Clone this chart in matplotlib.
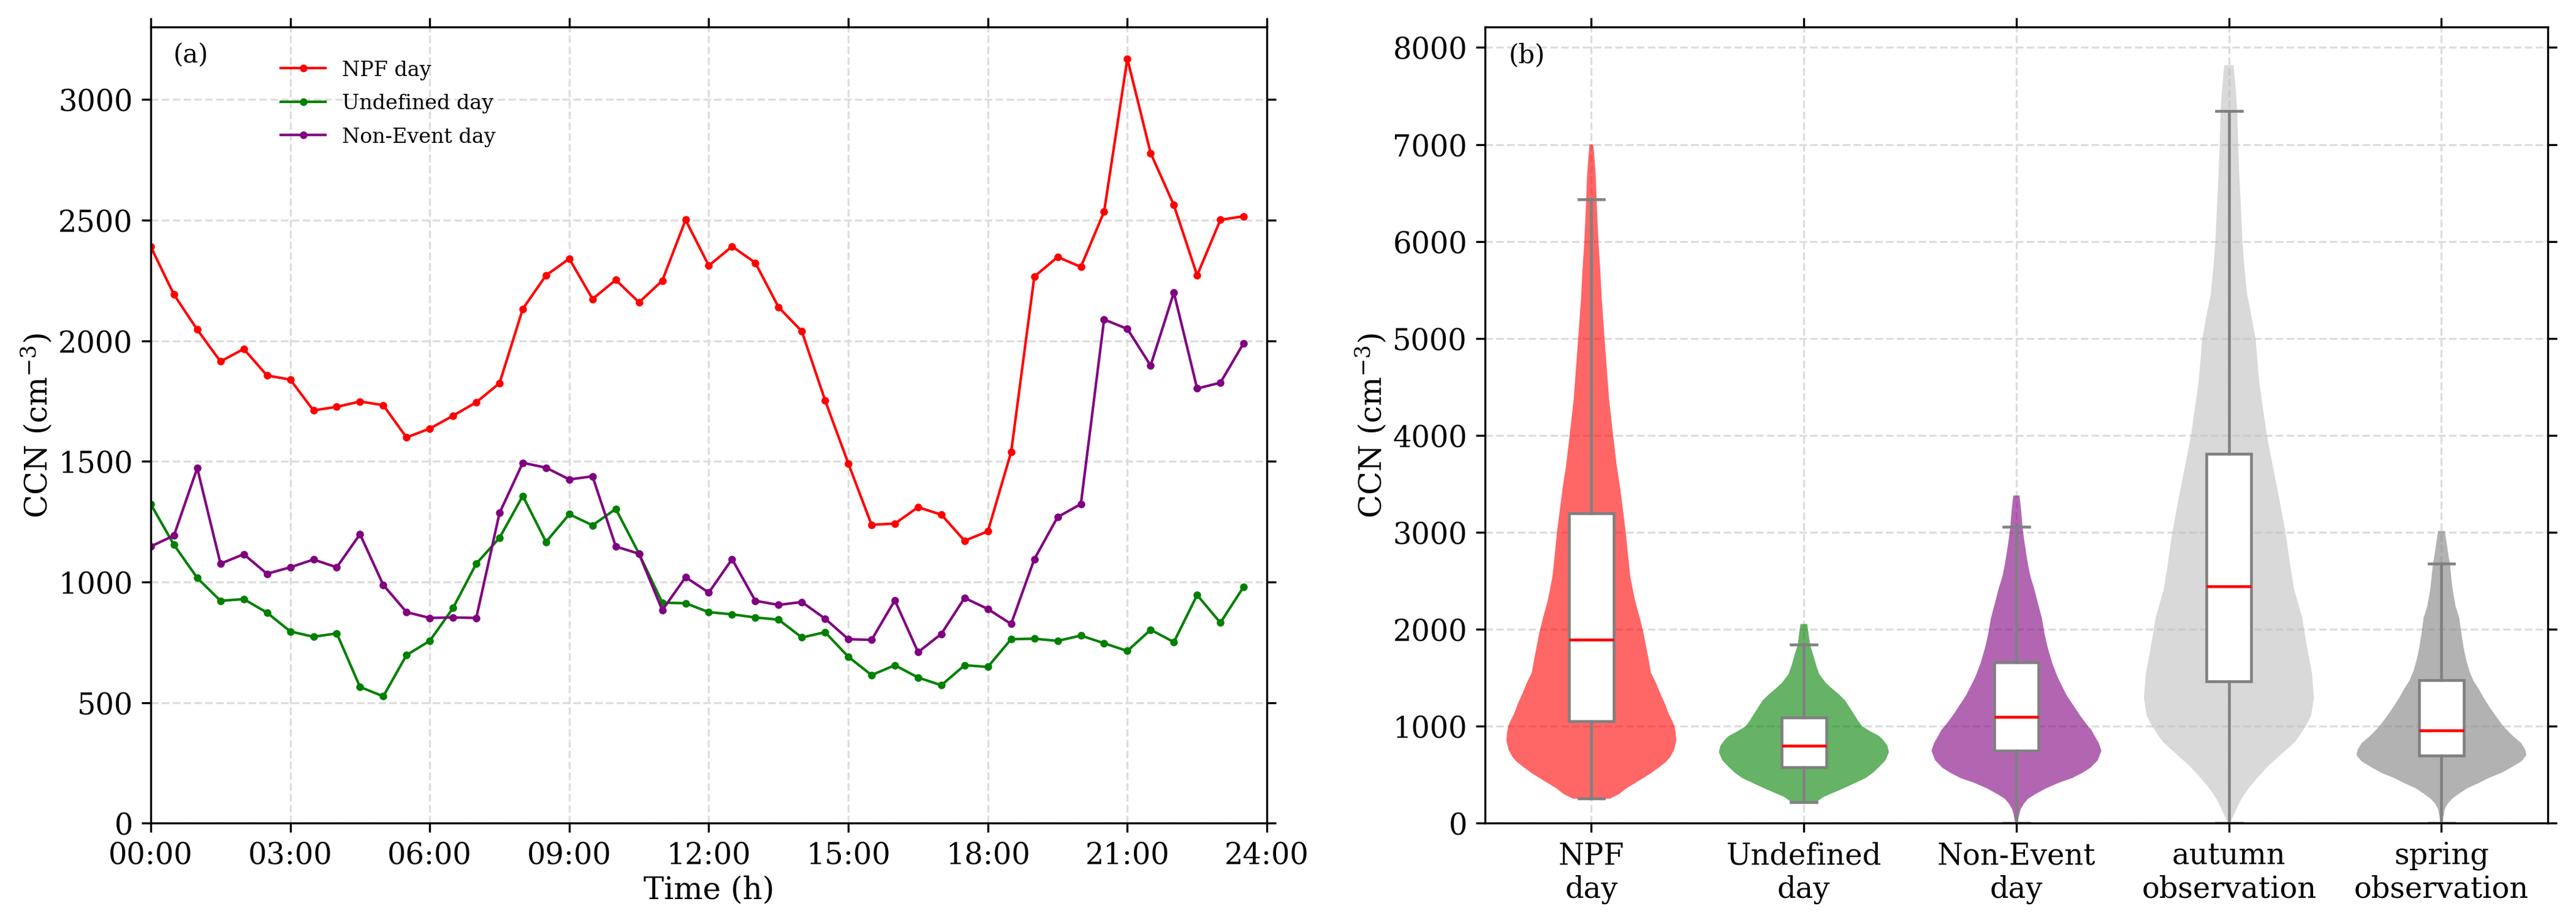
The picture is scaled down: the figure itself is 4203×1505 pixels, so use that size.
import matplotlib
matplotlib.use('Agg')
import matplotlib.pyplot as plt
import numpy as np

plt.rcParams['font.family'] = ['DejaVu Serif']
plt.rcParams['mathtext.fontset'] = 'dejavuserif'

# ---- datos panel (a): CCN medio cada 30 min ----
hours = np.arange(0, 24, 0.5)

npf_day = [2390, 2191, 2046, 1914, 1966, 1856, 1839, 1711, 1726, 1748, 1733, 1599,
           1636, 1689, 1745, 1824, 2132, 2271, 2340, 2173, 2252, 2159, 2249, 2501,
           2311, 2391, 2323, 2139, 2039, 1753, 1491, 1237, 1242, 1310, 1279, 1171,
           1210, 1538, 2266, 2347, 2306, 2535, 3169, 2778, 2562, 2271, 2501, 2516]

undefined_day = [1323, 1154, 1017, 922, 929, 873, 795, 773, 787, 565, 526, 697,
                 756, 892, 1076, 1183, 1357, 1166, 1281, 1235, 1303, 1117, 914, 912,
                 875, 866, 853, 844, 770, 792, 690, 614, 655, 604, 572, 655,
                 648, 763, 765, 756, 778, 746, 714, 802, 751, 946, 831, 980]

nonevent_day = [1147, 1193, 1472, 1076, 1115, 1034, 1061, 1093, 1061, 1198, 988, 875,
                851, 853, 851, 1286, 1494, 1474, 1425, 1438, 1147, 1117, 883, 1020,
                956, 1095, 922, 905, 917, 848, 763, 760, 924, 709, 785, 934,
                888, 826, 1095, 1269, 1323, 2088, 2049, 1897, 2200, 1802, 1826, 1990]

time_ticks = [0, 3, 6, 9, 12, 15, 18, 21, 24]
time_labels = ['00:00', '03:00', '06:00', '09:00', '12:00', '15:00', '18:00', '21:00', '24:00']

# ---- datos panel (b): perfiles de densidad ----
groups = ['NPF\nday', 'Undefined\nday', 'Non-Event\nday', 'autumn\nobservation', 'spring\nobservation']
violin_colors = ['red', 'green', 'purple', 'silver', 'gray']

npf_y = [253, 300, 360, 420, 468, 520, 576, 630, 683, 760, 854, 930, 1000, 1060, 1121,
         1230, 1336, 1450, 1555, 1700, 1810, 1960, 2115, 2300, 2540, 2750, 3000, 3200,
         3450, 3700, 4000, 4365, 4700, 5000, 5400, 5700, 6000, 6350, 6687, 6900, 7000]
npf_w = [60, 90, 114, 145, 170, 196, 220, 242, 257, 270, 277, 275, 271, 263, 253,
         240, 225, 210, 194, 186, 179, 170, 158, 142, 127, 120, 112, 104,
         94, 82, 71, 58, 50, 43, 34, 29, 23, 18, 14, 9, 6]

und_y = [220, 274, 320, 360, 420, 466, 520, 574, 650, 734, 800, 860, 900, 960, 1003,
         1060, 1121, 1190, 1264, 1324, 1400, 1447, 1538, 1629, 1740, 1842, 1964, 2055]
und_w = [41, 66, 100, 129, 170, 201, 225, 243, 266, 277, 272, 258, 245, 210, 189,
         176, 164, 150, 135, 116, 88, 72, 50, 40, 30, 20, 15, 11]

non_y = [0, 38, 90, 146, 200, 253, 300, 360, 420, 466, 520, 574, 650, 748, 830, 900,
         960, 1003, 1100, 1204, 1324, 1420, 1508, 1650, 1812, 1950, 2116, 2270, 2419,
         2540, 2663, 2780, 2906, 3050, 3210, 3300, 3380]
non_w = [3, 6, 9, 14, 24, 38, 62, 96, 140, 182, 215, 242, 265, 277, 268, 255,
         245, 233, 210, 188, 163, 148, 134, 117, 102, 92, 83, 70, 58,
         46, 38, 32, 26, 20, 16, 13, 10]

aut_y = [0, 82, 170, 253, 353, 466, 596, 681, 780, 839, 895, 1000, 1110, 1295, 1538,
         1690, 1900, 2116, 2419, 2700, 2991, 3331, 3650, 3994, 4300, 4547, 4800, 4997,
         5250, 5459, 5750, 6006, 6350, 6675, 7000, 7343, 7587, 7818]
aut_w = [2, 15, 28, 41, 62, 92, 130, 160, 195, 215, 228, 250, 268, 277, 271,
         262, 250, 239, 212, 198, 185, 165, 145, 124, 110, 99, 92, 87,
         72, 59, 50, 44, 39, 34, 30, 27, 22, 15]

spr_y = [0, 60, 146, 200, 253, 300, 360, 410, 466, 520, 574, 640, 703, 760, 827, 900,
         997, 1100, 1204, 1300, 1386, 1470, 1568, 1690, 1812, 1950, 2116, 2237, 2419,
         2540, 2663, 2780, 2845, 2930, 3015]
spr_w = [3, 6, 11, 20, 35, 55, 83, 118, 153, 195, 226, 260, 276, 272, 259, 232,
         202, 178, 155, 136, 121, 104, 91, 80, 72, 65, 58, 46, 36,
         32, 28, 22, 19, 15, 11]

# estadisticas de las cajas: bigote inf, q1, mediana, q3, bigote sup
whis_lo = [253, 216, 0, 0, 0]
q1 = [1052, 580, 748, 1465, 699]
med = [1891, 799, 1094, 2444, 960]
q3 = [3198, 1089, 1660, 3812, 1477]
whis_hi = [6432, 1842, 3058, 7343, 2675]

fig = plt.figure(figsize=(14.013, 5.02), dpi=300)

# ---------------- panel (a) ----------------
ax1 = fig.add_axes([0.0585, 0.108, 0.4332, 0.862])
ax1.plot(hours, npf_day, color='red', lw=1, marker='o', ms=2, label='NPF day')
ax1.plot(hours, undefined_day, color='green', lw=1, marker='o', ms=2, label='Undefined day')
ax1.plot(hours, nonevent_day, color='purple', lw=1, marker='o', ms=2, label='Non-Event day')

ax1.set_xlim(0, 24)
ax1.set_ylim(0, 3300)
ax1.set_xticks(time_ticks)
ax1.set_xticklabels(time_labels)
ax1.set_yticks([0, 500, 1000, 1500, 2000, 2500, 3000])
ax1.tick_params(labelsize=11.5, top=True, right=True)
ax1.grid(color='#dddddd', linestyle='--', linewidth=0.8)
ax1.set_axisbelow(True)
ax1.set_xlabel('Time (h)', fontsize=12, labelpad=2)
ax1.set_ylabel('CCN (cm$^{-3}$)', fontsize=12, labelpad=1.5)
ax1.text(0.02, 0.965, '(a)', transform=ax1.transAxes, fontsize=10, va='center')
ax1.legend(loc='upper left', bbox_to_anchor=(0.1, 0.982), frameon=False,
           fontsize=8, labelspacing=0.68, handlelength=2.2)

# ---------------- panel (b) ----------------
ax2 = fig.add_axes([0.5764, 0.108, 0.4124, 0.862])
positions = [1, 2, 3, 4, 5]
profiles = [(npf_y, npf_w), (und_y, und_w), (non_y, non_w), (aut_y, aut_w), (spr_y, spr_w)]

vpstats = []
for i, (ys, ws) in enumerate(profiles):
    vpstats.append({'coords': np.array(ys, dtype=float), 'vals': np.array(ws, dtype=float),
                    'mean': med[i], 'median': med[i], 'min': ys[0], 'max': ys[-1]})

parts = ax2.violin(vpstats, positions=positions, widths=0.8,
                   showmeans=False, showextrema=False, showmedians=False)
for body, c in zip(parts['bodies'], violin_colors):
    body.set_facecolor(c)
    body.set_edgecolor('none')
    body.set_alpha(0.6)

box_stats = []
for i in range(5):
    box_stats.append({'whislo': whis_lo[i], 'q1': q1[i], 'med': med[i], 'q3': q3[i],
                      'whishi': whis_hi[i], 'fliers': []})

ax2.bxp(box_stats, positions=positions, widths=0.21, capwidths=0.12,
        patch_artist=True, showfliers=False, manage_ticks=False,
        boxprops=dict(facecolor='white', edgecolor='gray', linewidth=1.1),
        medianprops=dict(color='red', linewidth=1.1),
        whiskerprops=dict(color='gray', linewidth=1.1),
        capprops=dict(color='gray', linewidth=1.1))

ax2.set_xlim(0.5, 5.5)
ax2.set_ylim(0, 8210)
ax2.set_xticks(positions)
ax2.set_xticklabels(groups)
ax2.set_yticks(range(0, 8001, 1000))
ax2.tick_params(labelsize=11.5, top=True, right=True)
ax2.grid(color='#dddddd', linestyle='--', linewidth=0.8)
ax2.set_axisbelow(True)
ax2.set_ylabel('CCN (cm$^{-3}$)', fontsize=12, labelpad=1.5)
ax2.text(0.022, 0.965, '(b)', transform=ax2.transAxes, fontsize=10, va='center')

fig.savefig('out.png', dpi=300)
